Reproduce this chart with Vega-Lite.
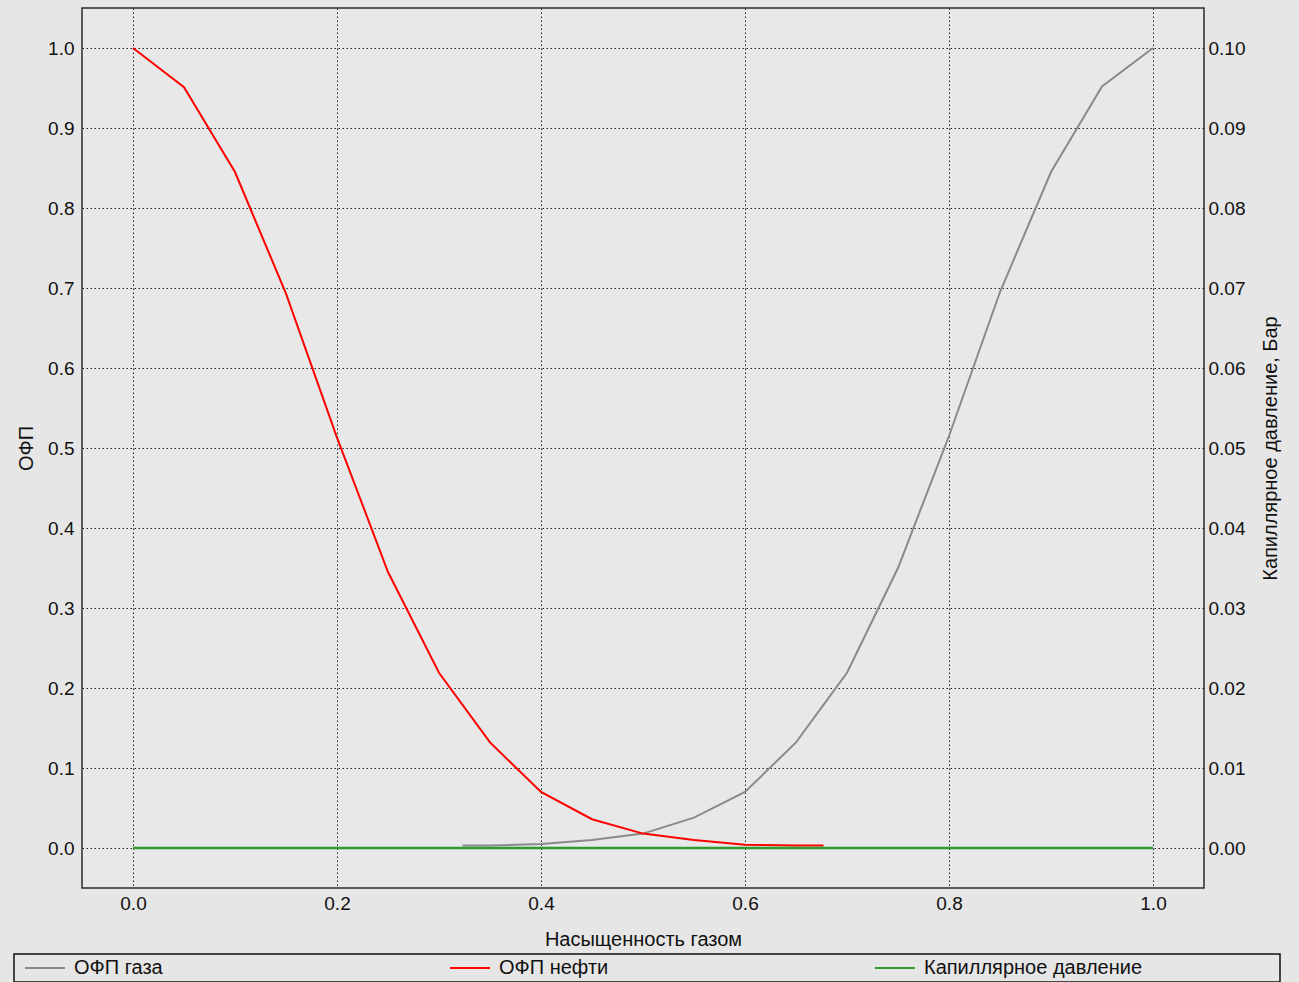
{
  "$schema": "https://vega.github.io/schema/vega-lite/v6.json",
  "width": 1122,
  "height": 880,
  "autosize": {"type": "none"},
  "padding": {"left": 82, "top": 8, "right": 95, "bottom": 94},
  "background": "#e6e6e6",
  "config": {
    "font": "Liberation Sans",
    "view": {"fill": "#e8e8e8", "stroke": "#2b2b2b", "strokeWidth": 1.5},
    "axis": {
      "labelFont": "Liberation Sans",
      "labelFontSize": 19,
      "labelColor": "#111111",
      "titleFont": "Liberation Sans",
      "titleFontSize": 20,
      "titleFontWeight": "normal",
      "titleColor": "#111111",
      "domain": false,
      "ticks": false,
      "gridColor": "#000000",
      "gridDash": [1.5, 2.5],
      "gridWidth": 1,
      "gridOpacity": 0.85
    },
    "legend": {
      "strokeColor": "#111111",
      "strokeWidth": 1.5,
      "padding": 4,
      "labelFont": "Liberation Sans",
      "labelFontSize": 20,
      "labelColor": "#111111",
      "labelLimit": 800
    }
  },
  "data": {
    "values": [
      {"s": 0.323, "value": 0.003, "series": "ОФП газа"},
      {"s": 0.35, "value": 0.003, "series": "ОФП газа"},
      {"s": 0.4, "value": 0.005, "series": "ОФП газа"},
      {"s": 0.45, "value": 0.01, "series": "ОФП газа"},
      {"s": 0.5, "value": 0.018, "series": "ОФП газа"},
      {"s": 0.55, "value": 0.038, "series": "ОФП газа"},
      {"s": 0.6, "value": 0.07, "series": "ОФП газа"},
      {"s": 0.65, "value": 0.132, "series": "ОФП газа"},
      {"s": 0.7, "value": 0.219, "series": "ОФП газа"},
      {"s": 0.75, "value": 0.35, "series": "ОФП газа"},
      {"s": 0.8, "value": 0.515, "series": "ОФП газа"},
      {"s": 0.85, "value": 0.695, "series": "ОФП газа"},
      {"s": 0.9, "value": 0.845, "series": "ОФП газа"},
      {"s": 0.95, "value": 0.952, "series": "ОФП газа"},
      {"s": 1.0, "value": 1.0, "series": "ОФП газа"},
      {"s": 0.0, "value": 1.0, "series": "ОФП нефти"},
      {"s": 0.05, "value": 0.951, "series": "ОФП нефти"},
      {"s": 0.1, "value": 0.845, "series": "ОФП нефти"},
      {"s": 0.15, "value": 0.693, "series": "ОФП нефти"},
      {"s": 0.2, "value": 0.513, "series": "ОФП нефти"},
      {"s": 0.25, "value": 0.345, "series": "ОФП нефти"},
      {"s": 0.3, "value": 0.219, "series": "ОФП нефти"},
      {"s": 0.35, "value": 0.132, "series": "ОФП нефти"},
      {"s": 0.4, "value": 0.07, "series": "ОФП нефти"},
      {"s": 0.45, "value": 0.036, "series": "ОФП нефти"},
      {"s": 0.5, "value": 0.018, "series": "ОФП нефти"},
      {"s": 0.55, "value": 0.01, "series": "ОФП нефти"},
      {"s": 0.6, "value": 0.004, "series": "ОФП нефти"},
      {"s": 0.65, "value": 0.003, "series": "ОФП нефти"},
      {"s": 0.677, "value": 0.003, "series": "ОФП нефти"},
      {"s": 0.0, "value": 0, "series": "Капиллярное давление"},
      {"s": 0.1, "value": 0, "series": "Капиллярное давление"},
      {"s": 0.2, "value": 0, "series": "Капиллярное давление"},
      {"s": 0.3, "value": 0, "series": "Капиллярное давление"},
      {"s": 0.4, "value": 0, "series": "Капиллярное давление"},
      {"s": 0.5, "value": 0, "series": "Капиллярное давление"},
      {"s": 0.6, "value": 0, "series": "Капиллярное давление"},
      {"s": 0.7, "value": 0, "series": "Капиллярное давление"},
      {"s": 0.8, "value": 0, "series": "Капиллярное давление"},
      {"s": 0.9, "value": 0, "series": "Капиллярное давление"},
      {"s": 1.0, "value": 0, "series": "Капиллярное давление"}
    ]
  },
  "encoding": {
    "x": {
      "field": "s",
      "type": "quantitative",
      "scale": {"domain": [-0.05, 1.05], "nice": false, "zero": false},
      "axis": {
        "title": "Насыщенность газом",
        "values": [0, 0.2, 0.4, 0.6, 0.8, 1.0],
        "format": ".1f",
        "grid": true,
        "labelPadding": 6,
        "titlePadding": 16
      }
    },
    "color": {
      "field": "series",
      "type": "nominal",
      "scale": {
        "domain": ["ОФП газа", "ОФП нефти", "Капиллярное давление"],
        "range": ["#8a8a8a", "#ff0000", "#2e9b2e"]
      },
      "legend": {
        "title": null,
        "orient": "none",
        "legendX": -68,
        "legendY": 946,
        "direction": "horizontal",
        "columns": 3,
        "gridAlign": "all",
        "columnPadding": 17,
        "symbolType": "M-4,0H4",
        "symbolSize": 100,
        "symbolStrokeWidth": 2,
        "symbolFillColor": "transparent",
        "symbolOffset": 17,
        "labelOffset": 19,
        "labelExpr": "datum.value == 'Капиллярное давление' ? datum.label + '\u00a0\u00a0\u00a0\u00a0\u00a0\u00a0\u00a0\u00a0\u00a0\u00a0\u00a0\u00a0\u00a0\u00a0\u00a0\u00a0\u00a0\u00a0\u00a0\u00a0\u00a0\u00a0\u00a0\u00a0\u200b' : datum.label"
      }
    }
  },
  "layer": [
    {
      "transform": [{"filter": "datum.series != 'Капиллярное давление'"}],
      "mark": {"type": "line", "strokeWidth": 2},
      "encoding": {
        "y": {
          "field": "value",
          "type": "quantitative",
          "scale": {"domain": [-0.05, 1.05], "nice": false, "zero": false},
          "axis": {
            "title": "ОФП",
            "orient": "left",
            "values": [0, 0.1, 0.2, 0.3, 0.4, 0.5, 0.6, 0.7, 0.8, 0.9, 1.0],
            "format": ".1f",
            "grid": true,
            "labelPadding": 8,
            "titlePadding": 11
          }
        }
      }
    },
    {
      "transform": [{"filter": "datum.series == 'Капиллярное давление'"}],
      "mark": {"type": "line", "strokeWidth": 2.5},
      "encoding": {
        "y": {
          "field": "value",
          "type": "quantitative",
          "scale": {"domain": [-0.005, 0.105], "nice": false, "zero": false},
          "axis": {
            "title": "Капиллярное давление, Бар",
            "orient": "right",
            "values": [0, 0.01, 0.02, 0.03, 0.04, 0.05, 0.06, 0.07, 0.08, 0.09, 0.1],
            "format": ".2f",
            "grid": false,
            "labelPadding": 4,
            "titleAngle": 270,
            "titleBaseline": "top",
            "titlePadding": 16
          }
        }
      }
    }
  ],
  "resolve": {"scale": {"y": "independent"}, "axis": {"y": "independent"}}
}
